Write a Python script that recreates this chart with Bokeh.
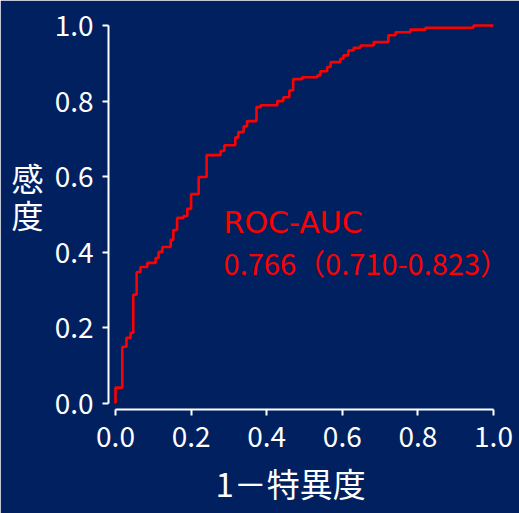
from bokeh.plotting import figure
from bokeh.models import Range1d, FixedTicker, Label, LinearAxis, Title
from bokeh.embed import file_html
from bokeh.resources import INLINE

# ROC curve corner points (1 - specificity, sensitivity)
fpr = [0.000, 0.000, 0.018, 0.029, 0.040, 0.047, 0.056, 0.066, 0.084, 0.106,
       0.114, 0.124, 0.146, 0.153, 0.163, 0.180, 0.190, 0.200, 0.220, 0.241,
       0.278, 0.288, 0.317, 0.325, 0.339, 0.348, 0.373, 0.384, 0.428, 0.444,
       0.460, 0.470, 0.494, 0.534, 0.542, 0.560, 0.569, 0.595, 0.603, 0.616,
       0.630, 0.648, 0.683, 0.722, 0.741, 0.780, 0.820, 0.947, 1.000]
tpr = [0.000, 0.042, 0.150, 0.174, 0.187, 0.288, 0.348, 0.361, 0.372, 0.385,
       0.401, 0.414, 0.433, 0.459, 0.491, 0.496, 0.515, 0.554, 0.599, 0.657,
       0.668, 0.683, 0.704, 0.718, 0.733, 0.747, 0.784, 0.789, 0.800, 0.810,
       0.828, 0.858, 0.863, 0.868, 0.879, 0.890, 0.903, 0.912, 0.921, 0.934,
       0.941, 0.947, 0.956, 0.974, 0.982, 0.989, 0.994, 1.000, 1.000]

ticks = [0.0, 0.2, 0.4, 0.6, 0.8, 1.0]
tick_labels = ["0.0", "0.2", "0.4", "0.6", "0.8", "1.0"]
x_title = "1－特異度"
y_title = "感\n度\n"
auc_lines = ["ROC-AUC", "0.766（0.710-0.823）"]

BG = "#002060"
RED = "#FF0000"
FONT = "Noto Sans CJK JP"

p = figure(width=519, height=513, output_backend="svg", toolbar_location=None,
           x_range=Range1d(-0.01852, 1.01852), y_range=Range1d(-0.01583, 1.01847),
           min_border_left=108, min_border_right=19, min_border_top=18,
           min_border_bottom=103)
p.background_fill_color = BG
p.border_fill_color = BG
p.outline_line_color = BG
p.outline_line_width = 3
p.grid.visible = False

for ax in (p.xaxis[0], p.yaxis[0]):
    ax.ticker = FixedTicker(ticks=ticks)
    ax.major_label_overrides = {t: l for t, l in zip(ticks, tick_labels)}
    ax.bounds = (0, 1)
    ax.axis_line_color = "white"
    ax.axis_line_width = 2
    ax.major_tick_line_color = "white"
    ax.major_tick_line_width = 2
    ax.major_tick_in = 0
    ax.major_tick_out = 6
    ax.minor_tick_line_color = None
    ax.major_label_text_color = "white"
    ax.major_label_text_font = FONT
    ax.major_label_text_font_size = "28px"
p.xaxis[0].major_label_standoff = 10
p.yaxis[0].major_label_standoff = 9

# vertical (upright) y title as a label-only axis
ytitle_axis = LinearAxis(ticker=FixedTicker(ticks=[]), axis_label=y_title,
                         axis_label_standoff=8,
                         axis_label_orientation="horizontal",
                         axis_label_text_color="white",
                         axis_label_text_font=FONT,
                         axis_label_text_font_size="32px",
                         axis_label_text_font_style="normal",
                         axis_label_text_line_height=0.8,
                         axis_line_color=None, major_tick_line_color=None,
                         minor_tick_line_color=None,
                         major_label_text_font_size="0px")
p.add_layout(ytitle_axis, "left")

# x title, placed with an offset from the frame's left edge
p.add_layout(Title(text=x_title, align="left", offset=107, standoff=14,
                   vertical_align="bottom", text_line_height=0.7,
                   text_color="white", text_font=FONT, text_font_size="33px",
                   text_font_style="normal"), "below")

p.step(fpr, tpr, mode="after", line_color=RED, line_width=2.6)

fonts = ["DejaVu Sans", FONT]
sizes = ["30px", "29px"]
for txt, yy, f, s in zip(auc_lines, [0.480, 0.375], fonts, sizes):
    p.add_layout(Label(x=0.286, y=yy, text=txt, text_align="left",
                       text_baseline="alphabetic", text_color=RED, text_font=f,
                       text_font_size=s))

open("out.html", "w").write(file_html(p, INLINE))
